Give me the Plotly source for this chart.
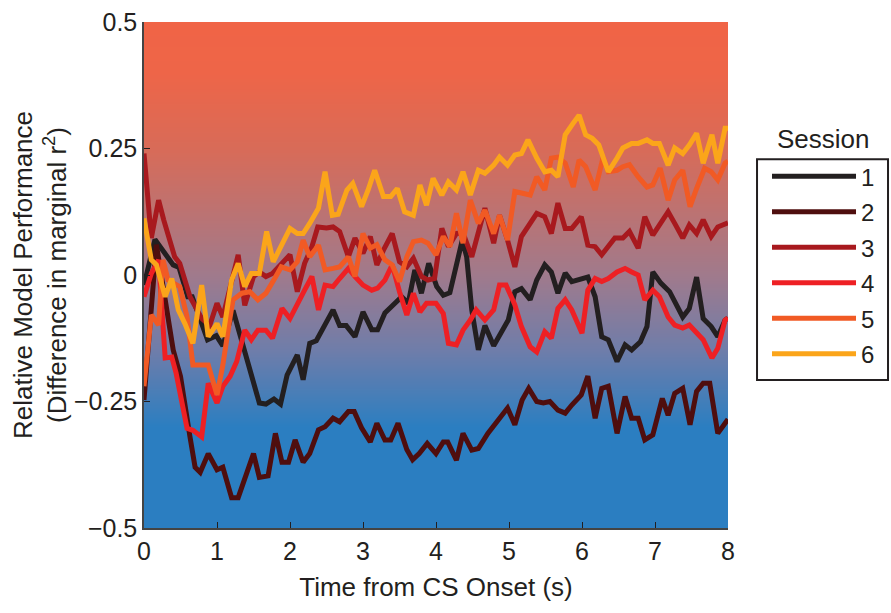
import plotly.graph_objects as go
import numpy as np

# ---------------- data ----------------
sessions = ["1", "2", "3", "4", "5", "6"]
colors = ["#231F20", "#4F0E0E", "#A8191E", "#EE2024", "#F15A24", "#FBA51A"]

t1 = [0.0, 0.15, 0.4, 0.48, 0.6, 0.66, 0.87, 0.99, 1.08, 1.22, 1.58, 1.67, 1.78, 1.87, 1.96, 2.1, 2.18, 2.27, 2.36, 2.59, 2.68, 2.77, 2.89, 3.0, 3.12, 3.2, 3.3, 3.44, 3.53, 3.62, 3.71, 3.8, 3.9, 4.01, 4.1, 4.19, 4.26, 4.36, 4.42, 4.49, 4.58, 4.67, 4.79, 4.88, 4.99, 5.08, 5.17, 5.29, 5.38, 5.49, 5.58, 5.67, 5.77, 5.86, 5.95, 6.08, 6.18, 6.27, 6.36, 6.48, 6.59, 6.68, 6.8, 6.89, 6.97, 7.08, 7.2, 7.29, 7.38, 7.47, 7.57, 7.66, 7.77, 7.86, 7.96, 8.0]
s1 = [-0.02, 0.07, 0.02, 0.015, -0.043, -0.043, -0.128, -0.12, -0.14, -0.07, -0.253, -0.255, -0.245, -0.255, -0.198, -0.158, -0.207, -0.135, -0.13, -0.069, -0.1, -0.1, -0.122, -0.073, -0.108, -0.108, -0.075, -0.056, -0.043, -0.056, 0.01, -0.036, 0.023, -0.023, -0.04, -0.035, 0.004, 0.069, 0.036, -0.069, -0.148, -0.1, -0.14, -0.115, -0.089, -0.033, -0.027, -0.049, -0.01, 0.02, 0.006, -0.036, 0.004, -0.013, -0.01, -0.004, -0.043, -0.122, -0.128, -0.171, -0.138, -0.148, -0.132, -0.102, 0.006, -0.016, -0.033, -0.056, -0.083, -0.066, -0.004, -0.086, -0.102, -0.122, -0.089, -0.085]

t2 = [0.0, 0.12, 0.17, 0.4, 0.5, 0.63, 0.7, 0.77, 0.88, 1.0, 1.08, 1.2, 1.29, 1.5, 1.58, 1.7, 1.8, 1.89, 1.98, 2.07, 2.18, 2.27, 2.39, 2.48, 2.59, 2.68, 2.8, 2.88, 2.98, 3.1, 3.19, 3.3, 3.38, 3.48, 3.6, 3.68, 3.77, 3.88, 4.0, 4.1, 4.16, 4.28, 4.37, 4.49, 4.58, 4.71, 4.87, 4.98, 5.08, 5.18, 5.27, 5.38, 5.47, 5.56, 5.67, 5.77, 5.86, 5.99, 6.08, 6.18, 6.27, 6.36, 6.48, 6.59, 6.68, 6.77, 6.86, 6.97, 7.1, 7.18, 7.27, 7.38, 7.48, 7.57, 7.66, 7.75, 7.86, 7.96, 8.0]
s2 = [-0.247, -0.043, 0.06, -0.148, -0.2, -0.32, -0.38, -0.39, -0.353, -0.385, -0.38, -0.44, -0.44, -0.353, -0.4, -0.397, -0.313, -0.37, -0.37, -0.326, -0.37, -0.353, -0.306, -0.3, -0.283, -0.29, -0.27, -0.27, -0.302, -0.33, -0.293, -0.326, -0.326, -0.293, -0.345, -0.365, -0.353, -0.333, -0.353, -0.33, -0.33, -0.366, -0.313, -0.346, -0.343, -0.313, -0.283, -0.263, -0.296, -0.247, -0.224, -0.25, -0.253, -0.25, -0.267, -0.273, -0.257, -0.237, -0.2, -0.283, -0.224, -0.22, -0.313, -0.24, -0.283, -0.283, -0.326, -0.316, -0.244, -0.277, -0.234, -0.224, -0.296, -0.23, -0.214, -0.214, -0.313, -0.29, -0.285]

t3 = [0.0, 0.1, 0.2, 0.27, 0.42, 0.49, 0.63, 0.79, 0.9, 1.0, 1.08, 1.29, 1.38, 1.5, 1.58, 1.67, 1.76, 1.9, 2.0, 2.1, 2.2, 2.3, 2.38, 2.5, 2.59, 2.68, 2.8, 2.89, 3.0, 3.1, 3.19, 3.28, 3.4, 3.5, 3.6, 3.69, 3.8, 3.89, 3.98, 4.08, 4.17, 4.28, 4.37, 4.49, 4.58, 4.67, 4.79, 4.87, 4.98, 5.08, 5.17, 5.29, 5.38, 5.49, 5.58, 5.67, 5.77, 5.86, 5.99, 6.08, 6.18, 6.27, 6.36, 6.45, 6.56, 6.65, 6.77, 6.86, 6.97, 7.08, 7.18, 7.27, 7.38, 7.47, 7.57, 7.66, 7.77, 7.86, 7.96, 8.0]
s3 = [0.24, 0.073, 0.148, 0.109, 0.036, 0.023, -0.043, -0.086, -0.1, -0.056, -0.083, 0.04, -0.06, -0.003, 0.006, -0.003, 0.003, 0.023, 0.04, -0.033, 0.023, 0.056, 0.095, 0.093, 0.095, 0.086, 0.036, 0.073, 0.043, 0.076, 0.02, 0.049, 0.082, 0.026, 0.016, 0.033, -0.003, -0.01, -0.007, 0.092, 0.056, 0.082, 0.083, 0.036, 0.082, 0.132, 0.063, 0.118, 0.069, 0.016, 0.076, 0.102, 0.122, 0.115, 0.082, 0.142, 0.092, 0.092, 0.115, 0.059, 0.056, 0.04, 0.056, 0.073, 0.073, 0.086, 0.053, 0.115, 0.079, 0.102, 0.125, 0.102, 0.073, 0.099, 0.082, 0.109, 0.076, 0.095, 0.102, 0.103]

t4 = [0.0, 0.1, 0.2, 0.29, 0.38, 0.44, 0.59, 0.67, 0.79, 0.88, 1.0, 1.08, 1.18, 1.27, 1.38, 1.47, 1.56, 1.67, 1.76, 1.89, 2.0, 2.1, 2.2, 2.3, 2.39, 2.48, 2.59, 2.68, 2.8, 2.89, 3.0, 3.12, 3.2, 3.3, 3.4, 3.5, 3.6, 3.69, 3.78, 3.87, 4.0, 4.1, 4.17, 4.28, 4.37, 4.47, 4.55, 4.67, 4.79, 4.87, 4.96, 5.08, 5.17, 5.29, 5.38, 5.49, 5.58, 5.67, 5.77, 5.86, 5.95, 6.0, 6.08, 6.18, 6.27, 6.36, 6.48, 6.59, 6.68, 6.77, 6.86, 6.97, 7.06, 7.18, 7.27, 7.38, 7.47, 7.57, 7.66, 7.78, 7.86, 7.96, 8.0]
s4 = [-0.043, 0.003, 0.03, -0.164, -0.162, -0.194, -0.303, -0.307, -0.32, -0.214, -0.253, -0.22, -0.2, -0.171, -0.109, -0.128, -0.109, -0.109, -0.125, -0.066, -0.086, -0.056, -0.03, -0.003, -0.069, -0.02, -0.023, -0.007, 0.013, -0.003, -0.02, -0.03, -0.026, -0.01, 0.02, -0.033, -0.079, -0.036, -0.073, -0.056, -0.056, -0.076, -0.135, -0.138, -0.109, -0.089, -0.069, -0.089, -0.069, -0.02, -0.02, -0.059, -0.102, -0.142, -0.152, -0.112, -0.125, -0.066, -0.049, -0.069, -0.102, -0.115, -0.03, -0.007, -0.013, -0.007, 0.006, 0.013, 0.006, 0.0, -0.049, -0.03, -0.043, -0.083, -0.099, -0.105, -0.099, -0.115, -0.128, -0.164, -0.145, -0.089, -0.085]

t5 = [0.0, 0.1, 0.2, 0.26, 0.33, 0.49, 0.59, 0.67, 0.79, 0.88, 1.0, 1.08, 1.18, 1.22, 1.34, 1.45, 1.56, 1.67, 1.79, 1.88, 2.0, 2.1, 2.18, 2.27, 2.39, 2.48, 2.59, 2.68, 2.8, 2.89, 3.0, 3.1, 3.19, 3.3, 3.4, 3.5, 3.6, 3.69, 3.8, 3.89, 4.0, 4.1, 4.19, 4.28, 4.37, 4.47, 4.58, 4.67, 4.79, 4.87, 4.98, 5.08, 5.17, 5.29, 5.38, 5.49, 5.58, 5.67, 5.77, 5.88, 5.96, 6.05, 6.18, 6.29, 6.36, 6.48, 6.56, 6.65, 6.77, 6.89, 6.97, 7.07, 7.18, 7.27, 7.38, 7.48, 7.57, 7.68, 7.77, 7.86, 7.96, 8.0]
s5 = [-0.22, -0.079, -0.099, 0.03, -0.01, -0.023, -0.083, -0.178, -0.178, -0.178, -0.237, -0.178, -0.083, -0.049, -0.036, -0.033, -0.049, -0.036, -0.007, 0.016, 0.01, 0.026, 0.069, 0.036, 0.059, 0.01, 0.013, 0.016, 0.036, -0.003, 0.082, 0.053, 0.06, 0.03, 0.02, -0.013, 0.036, 0.066, 0.069, 0.063, 0.04, 0.076, 0.056, 0.122, 0.063, 0.148, 0.102, 0.128, 0.082, 0.118, 0.069, 0.165, 0.162, 0.158, 0.194, 0.168, 0.231, 0.233, 0.221, 0.174, 0.227, 0.214, 0.168, 0.233, 0.204, 0.207, 0.214, 0.218, 0.194, 0.174, 0.178, 0.211, 0.148, 0.188, 0.207, 0.135, 0.171, 0.211, 0.204, 0.188, 0.221, 0.225]

t6 = [0.0, 0.1, 0.17, 0.29, 0.38, 0.47, 0.56, 0.67, 0.79, 0.88, 1.0, 1.08, 1.2, 1.29, 1.38, 1.47, 1.58, 1.68, 1.77, 1.89, 2.0, 2.1, 2.18, 2.27, 2.39, 2.48, 2.58, 2.66, 2.78, 2.86, 2.98, 3.07, 3.16, 3.28, 3.38, 3.47, 3.57, 3.69, 3.78, 3.87, 3.96, 4.08, 4.17, 4.28, 4.37, 4.47, 4.58, 4.67, 4.79, 4.87, 4.98, 5.08, 5.17, 5.26, 5.38, 5.49, 5.58, 5.67, 5.77, 5.88, 5.96, 6.05, 6.14, 6.23, 6.36, 6.48, 6.56, 6.68, 6.77, 6.89, 6.97, 7.06, 7.18, 7.27, 7.38, 7.47, 7.57, 7.66, 7.78, 7.86, 7.96, 8.0]
s6 = [0.112, 0.03, 0.02, -0.043, -0.007, -0.069, -0.096, -0.135, -0.02, -0.122, -0.096, -0.122, -0.01, 0.023, -0.023, 0.003, 0.003, 0.086, 0.026, 0.063, 0.092, 0.082, 0.082, 0.102, 0.132, 0.204, 0.118, 0.12, 0.168, 0.181, 0.135, 0.168, 0.207, 0.155, 0.155, 0.171, 0.125, 0.118, 0.178, 0.138, 0.191, 0.158, 0.184, 0.168, 0.204, 0.158, 0.207, 0.201, 0.217, 0.233, 0.217, 0.237, 0.24, 0.267, 0.231, 0.204, 0.207, 0.194, 0.277, 0.3, 0.316, 0.277, 0.27, 0.257, 0.204, 0.231, 0.251, 0.26, 0.26, 0.267, 0.26, 0.26, 0.217, 0.251, 0.24, 0.257, 0.28, 0.221, 0.277, 0.221, 0.29, 0.29]

times = [t1, t2, t3, t4, t5, t6]
values = [s1, s2, s3, s4, s5, s6]

y_tick_vals = [-0.5, -0.25, 0, 0.25, 0.5]
y_tick_text = ["\u22120.5", "\u22120.25", "0", "0.25", "0.5"]
x_tick_vals = [0, 1, 2, 3, 4, 5, 6, 7, 8]

# background gradient (style)
grad_y = np.linspace(-0.5, 0.5, 201)
grad_scale = [
    [0.0, "rgb(43,126,193)"],
    [0.2, "rgb(43,126,193)"],
    [0.35, "rgb(110,125,170)"],
    [0.5, "rgb(160,122,140)"],
    [0.75, "rgb(216,107,88)"],
    [0.9, "rgb(238,101,72)"],
    [1.0, "rgb(240,100,70)"],
]

FONT = "Liberation Sans, Arial, sans-serif"
INK = "#231F20"

fig = go.Figure()
fig.add_trace(go.Heatmap(
    x=[0, 8], y=grad_y, z=[[v, v] for v in grad_y],
    colorscale=grad_scale, zmin=-0.5, zmax=0.5, zsmooth="best",
    showscale=False, hoverinfo="skip", showlegend=False,
))
for name, col, tx, vy in zip(sessions, colors, times, values):
    fig.add_trace(go.Scatter(
        x=tx, y=vy, mode="lines", name=name, legendgroup=name,
        line=dict(color=col, width=5),
    ))

fig.update_layout(
    width=891, height=613,
    margin=dict(l=144, r=163, t=22, b=85, autoexpand=False),
    paper_bgcolor="white", plot_bgcolor="white",
    font=dict(family=FONT, size=25, color=INK),
    showlegend=True,
    legend=dict(
        x=1.0668, y=0.739, xanchor="left", yanchor="top",
        bgcolor="rgba(0,0,0,0)", borderwidth=0,
        font=dict(size=24, family=FONT, color=INK), itemwidth=84,
        tracegroupgap=1.3,
    ),
    shapes=[dict(
        type="rect", xref="paper", yref="paper",
        x0=1.0497, x1=1.274, y0=0.2925, y1=0.729,
        line=dict(color=INK, width=2), fillcolor="white", layer="below",
    )],
    annotations=[dict(
        text="Session", xref="paper", yref="paper", x=1.164, y=0.769,
        xanchor="center", yanchor="middle", showarrow=False,
        font=dict(size=26, family=FONT, color=INK),
    )],
)
fig.update_xaxes(
    range=[0, 8], tickvals=x_tick_vals, ticks="inside", ticklen=6,
    tickcolor=INK, showline=True, linecolor="#444", linewidth=1.5,
    showgrid=False, zeroline=False, mirror=False,
    title=dict(text="Time from CS Onset (s)", font=dict(size=26), standoff=14),
    tickfont=dict(size=25),
)
fig.update_yaxes(
    range=[-0.5, 0.5], tickvals=y_tick_vals, ticktext=y_tick_text,
    ticks="inside", ticklen=6, tickcolor=INK, showline=True,
    linecolor="#444", linewidth=1.5, showgrid=False, zeroline=False,
    title=dict(text="Relative Model Performance<br>(Difference in marginal r<sup>2</sup>)",
               font=dict(size=26), standoff=0),
    tickfont=dict(size=25),
)

fig.write_html("out.html")
